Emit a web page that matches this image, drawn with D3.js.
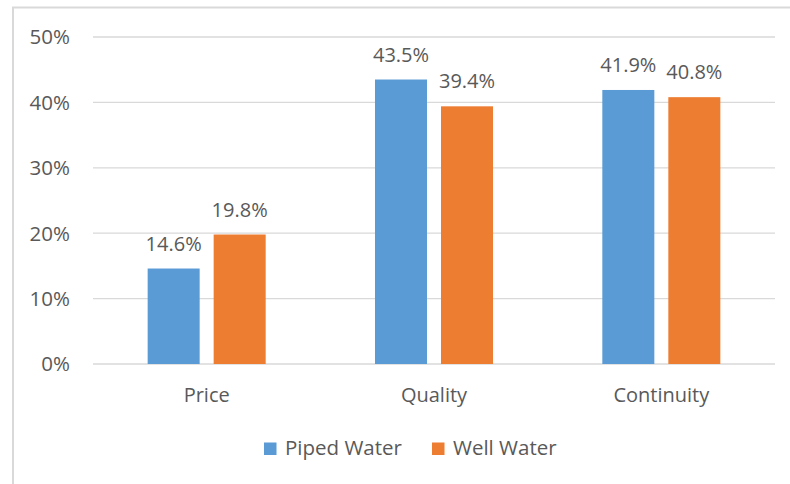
<!DOCTYPE html>
<html>
<head>
<meta charset="utf-8">
<script src="https://cdn.jsdelivr.net/npm/d3@7"></script>
<style>
  body { margin: 0; background: #fff; }
  text { font-family: "Open Sans", sans-serif; fill: #595959; }
</style>
</head>
<body>
<div id="chart"></div>
<script>
// Chart data
const categories = ["Price", "Quality", "Continuity"];
const seriesNames = ["Piped Water", "Well Water"];
const piped = [14.6, 43.5, 41.9];
const well = [19.8, 39.4, 40.8];
const yTicks = [0, 10, 20, 30, 40, 50];
const colors = ["#5B9BD5", "#ED7D31"];

const W = 790, H = 484;
const margin = { top: 37, right: 15, bottom: 120, left: 93 };
const width = W - margin.left - margin.right;
const height = H - margin.top - margin.bottom;

const svg = d3.select("#chart")
  .append("svg")
  .attr("width", W)
  .attr("height", H);

// Outer frame (cut off at right and bottom)
svg.append("rect")
  .attr("x", 13).attr("y", 7.5)
  .attr("width", W).attr("height", H)
  .attr("fill", "none")
  .attr("stroke", "#d9d9d9")
  .attr("stroke-width", 2);

const g = svg.append("g")
  .attr("transform", `translate(${margin.left},${margin.top})`);

// Scales
const x0 = d3.scaleBand().domain(categories).range([0, width]).padding(0);
const x1 = d3.scaleBand().domain(seriesNames).range([0, x0.bandwidth()])
  .paddingInner(0.212).paddingOuter(0.828);
const y = d3.scaleLinear().domain([0, 50]).range([height, 0]);

// Gridlines
g.selectAll("line.grid")
  .data(yTicks)
  .enter()
  .append("line")
  .attr("class", "grid")
  .attr("x1", 0).attr("x2", width)
  .attr("y1", d => y(d)).attr("y2", d => y(d))
  .attr("stroke", "#d9d9d9")
  .attr("stroke-width", 1.3);

// Y tick labels
g.selectAll("text.ytick")
  .data(yTicks)
  .enter()
  .append("text")
  .attr("class", "ytick")
  .attr("x", -23)
  .attr("y", d => y(d))
  .attr("dy", "0.36em")
  .attr("text-anchor", "end")
  .style("font-size", "20.5px")
  .text(d => d + "%");

// Bars
const rows = categories.map((c, i) => ({ cat: c, vals: [piped[i], well[i]] }));
const groups = g.selectAll("g.cat")
  .data(rows)
  .enter()
  .append("g")
  .attr("transform", d => `translate(${x0(d.cat)},0)`);

groups.selectAll("rect")
  .data(d => d.vals.map((v, i) => ({ name: seriesNames[i], v, i })))
  .enter()
  .append("rect")
  .attr("x", d => x1(d.name))
  .attr("width", x1.bandwidth())
  .attr("y", d => y(d.v))
  .attr("height", d => y(0) - y(d.v))
  .attr("fill", d => colors[d.i]);

// Value labels
groups.selectAll("text.val")
  .data(d => d.vals.map((v, i) => ({ name: seriesNames[i], v, i })))
  .enter()
  .append("text")
  .attr("class", "val")
  .attr("x", d => x1(d.name) + x1.bandwidth() / 2)
  .attr("y", d => y(d.v) - 18)
  .attr("text-anchor", "middle")
  .style("font-size", "20px")
  .text(d => d.v.toFixed(1) + "%");

// Category labels
g.selectAll("text.cat")
  .data(categories)
  .enter()
  .append("text")
  .attr("class", "cat")
  .attr("x", d => x0(d) + x0.bandwidth() / 2)
  .attr("y", height + 38)
  .attr("text-anchor", "middle")
  .style("font-size", "20px")
  .text(d => d);

// Legend
const legend = svg.append("g").attr("transform", "translate(264,455)");
const legendX = [0, 168];
seriesNames.forEach((name, i) => {
  legend.append("rect")
    .attr("x", legendX[i]).attr("y", -12.5)
    .attr("width", 12.5).attr("height", 12.5)
    .attr("fill", colors[i]);
  legend.append("text")
    .attr("x", legendX[i] + 21)
    .attr("y", 0)
    .style("font-size", "20.5px")
    .text(name);
});
</script>
</body>
</html>
